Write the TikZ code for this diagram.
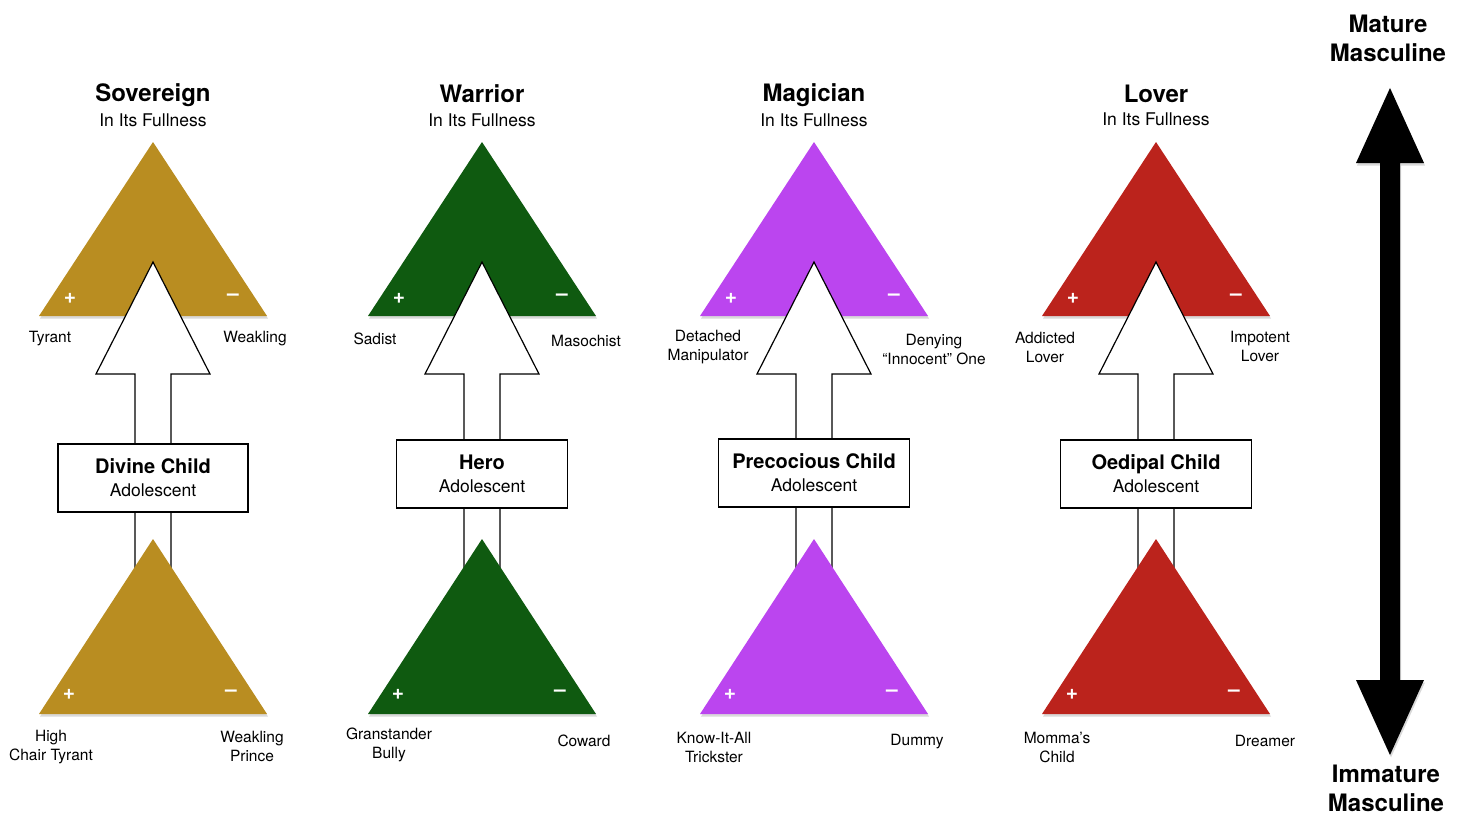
\documentclass[tikz,border=0pt]{standalone}
\usepackage{fontspec}
\setmainfont{TeX Gyre Heros}
\usetikzlibrary{shadows, calc}
\definecolor{sovgold}{HTML}{B98D21}
\definecolor{wargreen}{HTML}{0F5A10}
\definecolor{magpurple}{HTML}{BB45EF}
\definecolor{lovred}{HTML}{BB231C}

\begin{document}
\begin{tikzpicture}[
    x=1pt, y=-1pt,
    tri/.style={fill=#1, drop shadow={opacity=0.3, shadow xshift=1pt, shadow yshift=-2.5pt}},
    blockarrow/.style={draw=black, fill=white, line width=1.2pt, line join=miter},
    adbox/.style={draw=black, fill=white, line width=1.2pt, minimum height=68pt, align=center, inner sep=0pt,
        font=\fontsize{17.5}{23}\selectfont},
    title/.style={font=\fontsize{24}{28}\selectfont\bfseries},
    subtitle/.style={font=\fontsize{17.5}{21}\selectfont},
    lbl/.style={font=\fontsize{15.5}{19}\selectfont, align=center},
    sign/.style={font=\fontsize{21}{24}\selectfont\bfseries, text=white},
    axislbl/.style={font=\fontsize{24}{29}\selectfont\bfseries, align=center},
]
    \useasboundingbox (0,0) rectangle (1465,816);

    % Columns: triangles, block arrow, adolescent box
    \foreach \cx/\hue/\bw/\by/\i/\name in {153/sovgold/190/478/1/Divine Child, 482/wargreen/171/474/2/Hero, 814/magpurple/191/473/3/Precocious Child, 1156/lovred/191/474/4/Oedipal Child} {
        \coordinate (top\i) at (\cx,142);
        \coordinate (bot\i) at (\cx,539);
        \fill[tri=\hue] (top\i) -- ++(114,174) -- ++(-228,0) -- cycle;
        \filldraw[blockarrow] (\cx-18,620) -- (\cx-18,374) -- (\cx-57,374) -- (\cx,262)
            -- (\cx+57,374) -- (\cx+18,374) -- (\cx+18,620);
        \node[adbox, minimum width=\bw pt] (box\i) at (\cx,\by)
            {{\fontsize{20}{23}\selectfont\bfseries \name}\\Adolescent};
        \fill[tri=\hue] (bot\i) -- ++(114,175) -- ++(-228,0) -- cycle;
        \node[sign] at (\cx-83,298) {+};
        \node[sign] at (\cx+80,297) {\textendash};
        \node[sign] at (\cx-84,694) {+};
        \node[sign] at (\cx+78,693) {\textendash};
    }

    % Titles
    \node[title] (sovtitle) at (153,95) {Sovereign};
    \node[subtitle] (sovsub) at (153,120) {In Its Fullness};
    \node[title] (wartitle) at (482,94) {Warrior};
    \node[subtitle] (warsub) at (482,120) {In Its Fullness};
    \node[title] (magtitle) at (814,95) {Magician};
    \node[subtitle] (magsub) at (814,120) {In Its Fullness};
    \node[title] (lovtitle) at (1156,94) {Lover};
    \node[subtitle] (lovsub) at (1156,119) {In Its Fullness};

    % Shadow labels (upper)
    \node[lbl] (tyrant) at (50,339) {Tyrant};
    \node[lbl] (weakling) at (255,339) {Weakling};
    \node[lbl] (sadist) at (375,339) {Sadist};
    \node[lbl] (masochist) at (586,341) {Masochist};
    \node[lbl] (manip) at (708,347) {Detached\\Manipulator};
    \node[lbl] (denying) at (934,349) {Denying\\``Innocent'' One};
    \node[lbl] (addicted) at (1045,347) {Addicted\\Lover};
    \node[lbl] (impotent) at (1260,346) {Impotent\\Lover};

    % Shadow labels (lower)
    \node[lbl] (highchair) at (51,747) {High\\Chair Tyrant};
    \node[lbl] (prince) at (252,746) {Weakling\\Prince};
    \node[lbl] (bully) at (389,745) {Granstander\\Bully};
    \node[lbl] (coward) at (584,741) {Coward};
    \node[lbl] (trickster) at (714,747) {Know-It-All\\Trickster};
    \node[lbl] (dummy) at (917,742) {Dummy};
    \node[lbl] (momma) at (1057,747) {Momma’s\\Child};
    \node[lbl] (dreamer) at (1265,741) {Dreamer};

    % Maturity axis
    \node[axislbl] (mature) at (1388,38) {Mature\\Masculine};
    \node[axislbl] (immature) at (1386,788) {Immature\\Masculine};
    \fill[black, drop shadow={opacity=0.3, shadow xshift=1pt, shadow yshift=-2.5pt}]
        (1390,88) -- (1424,163) -- (1400,163) -- (1400,680) -- (1424,680) -- (1390,755)
        -- (1356,680) -- (1380,680) -- (1380,163) -- (1356,163) -- cycle;
\end{tikzpicture}
\end{document}
